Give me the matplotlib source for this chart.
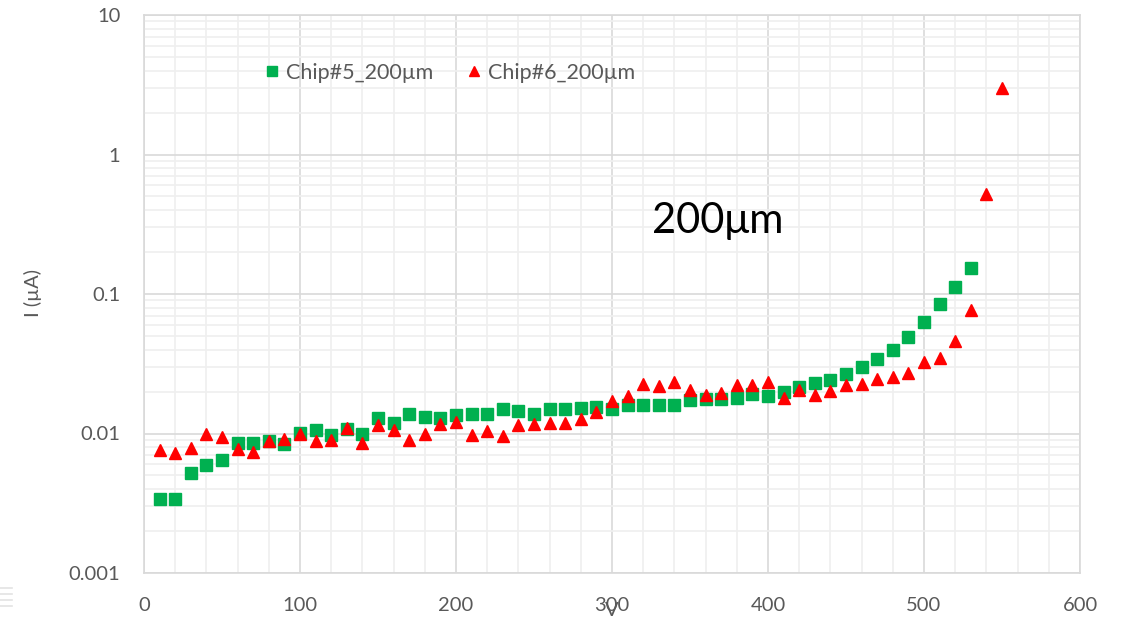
import numpy as np
import matplotlib.pyplot as plt
from matplotlib.lines import Line2D
from matplotlib.ticker import MultipleLocator, LogLocator, FixedLocator, FuncFormatter

plt.rcParams['font.family'] = ['Lato', 'DejaVu Sans']

# Chip#5 (squares), 10 V .. 530 V
v5 = list(range(10, 540, 10))
i5 = [0.00337, 0.00340, 0.00523, 0.00593, 0.00651, 0.00848, 0.00858, 0.00881, 0.00844, 0.0101,
      0.0106, 0.00972, 0.0108, 0.0100, 0.0130, 0.0118, 0.0137, 0.0132, 0.0130, 0.0135,
      0.0139, 0.0138, 0.0151, 0.0146, 0.0138, 0.0149, 0.0149, 0.0153, 0.0155, 0.0150,
      0.0161, 0.0159, 0.0161, 0.0161, 0.0175, 0.0178, 0.0178, 0.0180, 0.0191, 0.0187,
      0.0198, 0.0214, 0.0232, 0.0240, 0.0265, 0.0302, 0.0342, 0.0399, 0.0488, 0.0635,
      0.0853, 0.113, 0.154]

# Chip#6 (triangles), 10 V .. 550 V
v6 = list(range(10, 560, 10))
i6 = [0.00760, 0.00727, 0.00781, 0.0100, 0.00947, 0.00768, 0.00739, 0.0088, 0.0091, 0.0100,
      0.0088, 0.0090, 0.0110, 0.0086, 0.0116, 0.0106, 0.0090, 0.0100, 0.0117, 0.0120,
      0.00972, 0.0104, 0.0096, 0.0115, 0.0117, 0.0118, 0.0119, 0.0128, 0.0143, 0.0170,
      0.0185, 0.0228, 0.0218, 0.0235, 0.0204, 0.0188, 0.0195, 0.0224, 0.0224, 0.0234,
      0.0181, 0.0204, 0.0188, 0.0202, 0.0222, 0.0226, 0.0244, 0.0253, 0.0272, 0.0324,
      0.0349, 0.0464, 0.0774, 0.517, 3.02]

W, H = 1129, 618
fig = plt.figure(figsize=(W / 100, H / 100), dpi=100)
ax = fig.add_axes([144 / W, (H - 573) / H, (1080 - 144) / W, (573 - 15) / H])

ax.set_yscale('log')
ax.set_xlim(0, 600)
ax.set_ylim(0.001, 10)

ax.xaxis.set_major_locator(MultipleLocator(100))
ax.xaxis.set_minor_locator(MultipleLocator(20))
ax.yaxis.set_major_locator(FixedLocator([0.001, 0.01, 0.1, 1, 10]))
ax.yaxis.set_minor_locator(LogLocator(base=10, subs=np.arange(2, 10)))
ax.yaxis.set_major_formatter(FuncFormatter(lambda v, p: '%g' % v))
ax.yaxis.set_minor_formatter(FuncFormatter(lambda v, p: ''))

ax.grid(which='major', color='#d9d9d9', linewidth=1.2)
ax.grid(which='minor', color='#efefef', linewidth=1.2)
ax.set_axisbelow(True)
for s in ax.spines.values():
    s.set_color('#d9d9d9')
    s.set_linewidth(1.2)
ax.tick_params(which='both', length=0, labelsize=14.5, colors='#595959')
ax.tick_params(axis='x', pad=17)
ax.tick_params(axis='y', pad=17)

ax.plot(v5, i5, 's', color='#00b050', markersize=9, label='Chip#5_200µm')
ax.plot(v6, i6, '^', color='#ff0000', markersize=9, label='Chip#6_200µm')

ax.legend(loc='center left', bbox_to_anchor=(261 / W, 1 - 73 / H),
          bbox_transform=fig.transFigure, ncol=2, frameon=False,
          fontsize=15.5, labelcolor='#595959', handletextpad=0.15, columnspacing=1.4,
          handlelength=1.0, markerscale=0.85, borderpad=0, borderaxespad=0)

fig.text(652 / W, 1 - 221 / H, '200μm', fontsize=30, color='black', va='center', ha='left')
fig.text(33 / W, 1 - 293 / H, 'I (µA)', fontsize=14.5, color='#595959', rotation=90,
         va='center', ha='center')
fig.text(612 / W, 1 - 611 / H, 'V', fontsize=14.5, color='#595959', va='center', ha='center')

# faint icon in the lower-left corner
for yy in (588, 594, 600, 606):
    fig.add_artist(Line2D([0, 12 / W], [1 - yy / H, 1 - yy / H], color='#e3e3e3', lw=1.2))

fig.savefig('out.png', dpi=100)
